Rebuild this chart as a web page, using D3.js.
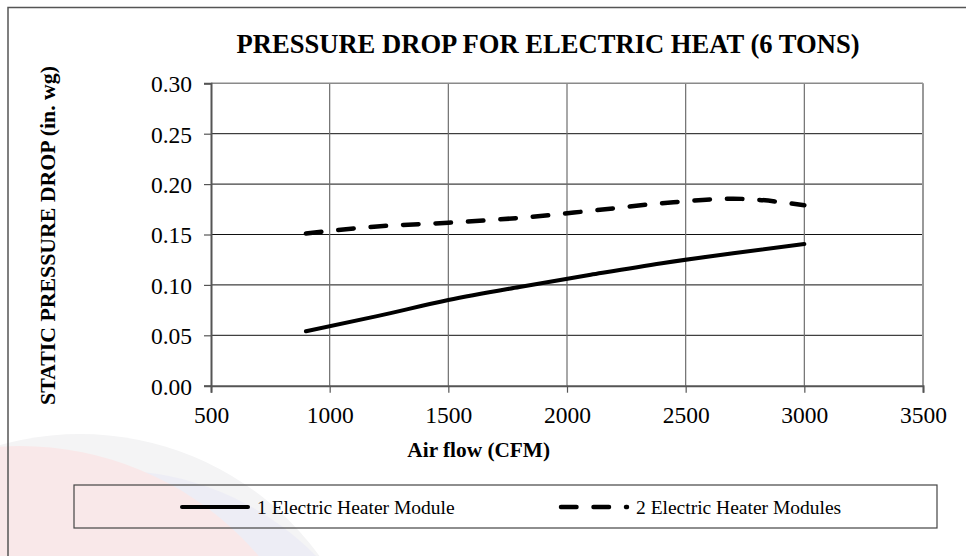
<!DOCTYPE html>
<html>
<head>
<meta charset="utf-8">
<script src="https://cdn.jsdelivr.net/npm/d3@7"></script>
<style>
  html, body { margin: 0; padding: 0; background: #fff; }
  svg { display: block; }
</style>
</head>
<body>
<svg id="chart" width="966" height="556"></svg>
<script>
// Air flow (CFM) sample points and static pressure drop (in. wg)
const airflow     = [900, 1200, 1500, 1800, 2100, 2400, 2700, 3000];
const oneModule   = [0.054, 0.069, 0.085, 0.098, 0.110, 0.1215, 0.1315, 0.1405];
const twoModules  = [0.151, 0.158, 0.1617, 0.1665, 0.1735, 0.181, 0.1855, 0.179];

const seriesNames = ["1 Electric Heater Module", "2 Electric Heater Modules"];
const xTicks = [500, 1000, 1500, 2000, 2500, 3000, 3500];
const yTicks = [0, 0.05, 0.10, 0.15, 0.20, 0.25, 0.30];

const titleText = "PRESSURE DROP FOR ELECTRIC HEAT (6 TONS)";
const xLabel = "Air flow (CFM)";
const yLabel = "STATIC PRESSURE DROP (in. wg)";

const svg = d3.select("#chart");
const serif = "'Liberation Serif', 'Times New Roman', Times, serif";

const plot = { left: 211, right: 923, top: 83.3, bottom: 385.7 };

const x = d3.scaleLinear().domain([500, 3500]).range([plot.left, plot.right]);
const y = d3.scaleLinear().domain([0, 0.30]).range([plot.bottom, plot.top]);

// faint logo in the lower-left background
const logo = svg.append("g");
logo.append("circle").attr("cx", 80).attr("cy", 730).attr("r", 296).attr("fill", "#f4f4f5");
logo.append("circle").attr("cx", 110).attr("cy", 760).attr("r", 290).attr("fill", "#ededf5");
logo.append("circle").attr("cx", 20).attr("cy", 760).attr("r", 314).attr("fill", "#f9e8e9");

// outer chart frame
svg.append("rect")
  .attr("x", 8).attr("y", 7.5).attr("width", 1000).attr("height", 600)
  .attr("fill", "none").attr("stroke", "#555").attr("stroke-width", 1.5);

// plot background
svg.append("rect")
  .attr("x", plot.left).attr("y", plot.top)
  .attr("width", plot.right - plot.left).attr("height", plot.bottom - plot.top)
  .attr("fill", "#fff");

// gridlines
svg.append("g").selectAll("line").data(yTicks.slice(1, -1)).join("line")
  .attr("x1", plot.left).attr("x2", plot.right)
  .attr("y1", d => y(d)).attr("y2", d => y(d))
  .attr("stroke", "#111").attr("stroke-width", 1);
svg.append("g").selectAll("line").data(xTicks.slice(1, -1)).join("line")
  .attr("x1", d => x(d)).attr("x2", d => x(d))
  .attr("y1", plot.top).attr("y2", plot.bottom)
  .attr("stroke", "#6e6e6e").attr("stroke-width", 1.2);

// top and right borders
svg.append("line").attr("x1", plot.left).attr("x2", plot.right)
  .attr("y1", plot.top).attr("y2", plot.top)
  .attr("stroke", "#8a8a8a").attr("stroke-width", 1.5);
svg.append("line").attr("x1", plot.right).attr("x2", plot.right)
  .attr("y1", plot.top).attr("y2", plot.bottom)
  .attr("stroke", "#999").attr("stroke-width", 2);

// axes
const yAxis = svg.append("g")
  .attr("transform", `translate(${plot.left},0)`)
  .call(d3.axisLeft(y).tickValues(yTicks).tickFormat(d3.format(".2f")).tickSize(7).tickPadding(12));
const xAxis = svg.append("g")
  .attr("transform", `translate(0,${plot.bottom})`)
  .call(d3.axisBottom(x).tickValues(xTicks).tickFormat(d3.format("d")).tickSize(7).tickPadding(14));

[yAxis, xAxis].forEach(g => {
  g.select(".domain").attr("stroke", "#555").attr("stroke-width", 2);
  g.selectAll(".tick line").attr("stroke", "#555").attr("stroke-width", 1.2);
  g.selectAll(".tick text")
    .attr("fill", "#000")
    .style("font-family", serif)
    .style("font-size", "23.5px");
});
yAxis.selectAll(".tick text").attr("dy", "0.36em");

// series lines
const line = d3.line()
  .x(d => x(d[0]))
  .y(d => y(d[1]))
  .curve(d3.curveMonotoneX);

svg.append("path")
  .datum(d3.zip(airflow, oneModule))
  .attr("d", line)
  .attr("fill", "none").attr("stroke", "#000")
  .attr("stroke-width", 4).attr("stroke-linecap", "round");

svg.append("path")
  .datum(d3.zip(airflow, twoModules))
  .attr("d", line)
  .attr("fill", "none").attr("stroke", "#000")
  .attr("stroke-width", 4.5).attr("stroke-linecap", "round")
  .attr("stroke-dasharray", "15.5,17");

// title
svg.append("text")
  .attr("x", 548).attr("y", 52.7)
  .attr("text-anchor", "middle")
  .style("font-family", serif).style("font-weight", "bold").style("font-size", "26.6px")
  .text(titleText);

// axis titles
svg.append("text")
  .attr("x", 478.7).attr("y", 456.7)
  .attr("text-anchor", "middle")
  .style("font-family", serif).style("font-weight", "bold").style("font-size", "21.3px")
  .text(xLabel);

svg.append("text")
  .attr("transform", `translate(55,235.5) rotate(-90)`)
  .attr("text-anchor", "middle")
  .style("font-family", serif).style("font-weight", "bold").style("font-size", "21.8px")
  .text(yLabel);

// legend
const legend = svg.append("g");
legend.append("rect")
  .attr("x", 74).attr("y", 485).attr("width", 863).attr("height", 43)
  .attr("fill", "none").attr("stroke", "#444").attr("stroke-width", 1.2);

const legendItems = [
  { name: seriesNames[0], x0: 180, dash: null, width: 4 },
  { name: seriesNames[1], x0: 559, dash: "15.5,17", width: 4.5 }
];
legendItems.forEach(it => {
  legend.append("line")
    .attr("x1", it.x0 + 2).attr("x2", it.x0 + 68)
    .attr("y1", 507).attr("y2", 507)
    .attr("stroke", "#000").attr("stroke-width", it.width)
    .attr("stroke-linecap", "round")
    .attr("stroke-dasharray", it.dash);
  legend.append("text")
    .attr("x", it.x0 + 77).attr("y", 513.5)
    .style("font-family", serif).style("font-size", "19.5px")
    .text(it.name);
});
</script>
</body>
</html>
